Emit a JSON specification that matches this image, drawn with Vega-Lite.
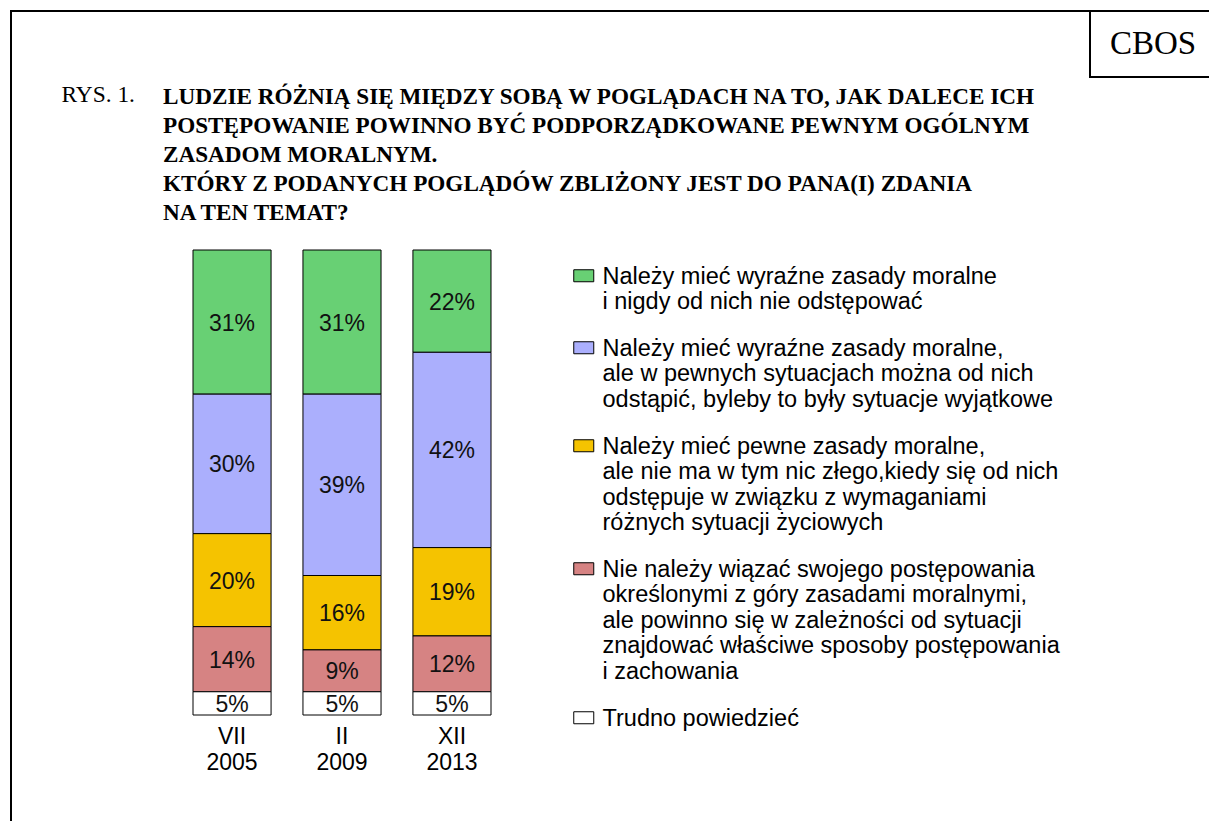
{
  "$schema": "https://vega.github.io/schema/vega-lite/v6.json",
  "width": 1210,
  "height": 830,
  "autosize": {"type": "none"},
  "padding": {"left": 11, "top": 11, "right": 0, "bottom": 0},
  "background": "white",
  "config": {"view": {"stroke": "black", "strokeWidth": 2}, "font": "Liberation Sans", "legend": {"strokeWidth": 2}},
  "title": {
    "text": ["LUDZIE RÓŻNIĄ SIĘ MIĘDZY SOBĄ W POGLĄDACH NA TO, JAK DALECE ICH", "POSTĘPOWANIE POWINNO BYĆ PODPORZĄDKOWANE PEWNYM OGÓLNYM", "ZASADOM MORALNYM.", "KTÓRY Z PODANYCH POGLĄDÓW ZBLIŻONY JEST DO PANA(I) ZDANIA", "NA TEN TEMAT?"],
    "anchor": "start",
    "frame": "group",
    "font": "Liberation Serif",
    "fontSize": 23.2,
    "fontWeight": "bold",
    "color": "black",
    "lineHeight": 29,
    "dx": 152,
    "dy": 215,
    "offset": 0
  },
  "datasets": {
    "survey": [
      {"period": "VII 2005", "k": 1, "cat": "Należy mieć wyraźne zasady moralne i nigdy od nich nie odstępować", "v": 0.31},
      {"period": "VII 2005", "k": 2, "cat": "Należy mieć wyraźne zasady moralne, ale w pewnych sytuacjach można od nich odstąpić, byleby to były sytuacje wyjątkowe", "v": 0.30},
      {"period": "VII 2005", "k": 3, "cat": "Należy mieć pewne zasady moralne, ale nie ma w tym nic złego, kiedy się od nich odstępuje w związku z wymaganiami różnych sytuacji życiowych", "v": 0.20},
      {"period": "VII 2005", "k": 4, "cat": "Nie należy wiązać swojego postępowania określonymi z góry zasadami moralnymi, ale powinno się w zależności od sytuacji znajdować właściwe sposoby postępowania i zachowania", "v": 0.14},
      {"period": "VII 2005", "k": 5, "cat": "Trudno powiedzieć", "v": 0.05},
      {"period": "II 2009", "k": 1, "cat": "Należy mieć wyraźne zasady moralne i nigdy od nich nie odstępować", "v": 0.31},
      {"period": "II 2009", "k": 2, "cat": "Należy mieć wyraźne zasady moralne, ale w pewnych sytuacjach można od nich odstąpić, byleby to były sytuacje wyjątkowe", "v": 0.39},
      {"period": "II 2009", "k": 3, "cat": "Należy mieć pewne zasady moralne, ale nie ma w tym nic złego, kiedy się od nich odstępuje w związku z wymaganiami różnych sytuacji życiowych", "v": 0.16},
      {"period": "II 2009", "k": 4, "cat": "Nie należy wiązać swojego postępowania określonymi z góry zasadami moralnymi, ale powinno się w zależności od sytuacji znajdować właściwe sposoby postępowania i zachowania", "v": 0.09},
      {"period": "II 2009", "k": 5, "cat": "Trudno powiedzieć", "v": 0.05},
      {"period": "XII 2013", "k": 1, "cat": "Należy mieć wyraźne zasady moralne i nigdy od nich nie odstępować", "v": 0.22},
      {"period": "XII 2013", "k": 2, "cat": "Należy mieć wyraźne zasady moralne, ale w pewnych sytuacjach można od nich odstąpić, byleby to były sytuacje wyjątkowe", "v": 0.42},
      {"period": "XII 2013", "k": 3, "cat": "Należy mieć pewne zasady moralne, ale nie ma w tym nic złego, kiedy się od nich odstępuje w związku z wymaganiami różnych sytuacji życiowych", "v": 0.19},
      {"period": "XII 2013", "k": 4, "cat": "Nie należy wiązać swojego postępowania określonymi z góry zasadami moralnymi, ale powinno się w zależności od sytuacji znajdować właściwe sposoby postępowania i zachowania", "v": 0.12},
      {"period": "XII 2013", "k": 5, "cat": "Trudno powiedzieć", "v": 0.05}
    ],
    "source": [{"org": "CBOS"}]
  },
  "layer": [
    {
      "data": {"name": "survey"},
      "transform": [{"stack": "v", "groupby": ["period"], "sort": [{"field": "k", "order": "descending"}], "as": ["v0", "v1"]}],
      "mark": {"type": "bar", "stroke": "black", "strokeWidth": 1},
      "encoding": {
        "x": {
          "field": "period", "type": "nominal", "sort": null,
          "scale": {"range": [182, 480], "paddingInner": 0.29, "paddingOuter": 0},
          "axis": {"orient": "bottom", "offset": -126, "title": null, "domain": false, "ticks": false, "tickSize": 0, "grid": false, "labelAngle": 0, "labelFontSize": 23, "labelFont": "Liberation Sans", "labelColor": "black", "labelLineHeight": 26, "labelBaseline": "top", "labelPadding": 10, "labelExpr": "split(datum.label, ' ')"}
        },
        "y": {
          "field": "v0", "type": "quantitative",
          "scale": {"domain": [0, 1], "range": [704, 239], "nice": false},
          "axis": {"orient": "left", "domain": false, "ticks": false, "labels": false, "grid": false, "title": "RYS. 1.", "titleAngle": 0, "titleX": 50, "titleY": 90, "titleAlign": "left", "titleBaseline": "alphabetic", "titleFont": "Liberation Serif", "titleFontSize": 23.4, "titleFontWeight": "normal", "titleColor": "black"}
        },
        "y2": {"field": "v1"},
        "fill": {
          "field": "cat", "type": "nominal", "sort": null,
          "scale": {
            "domain": [
              "Należy mieć wyraźne zasady moralne i nigdy od nich nie odstępować",
              "Należy mieć wyraźne zasady moralne, ale w pewnych sytuacjach można od nich odstąpić, byleby to były sytuacje wyjątkowe",
              "Należy mieć pewne zasady moralne, ale nie ma w tym nic złego, kiedy się od nich odstępuje w związku z wymaganiami różnych sytuacji życiowych",
              "Nie należy wiązać swojego postępowania określonymi z góry zasadami moralnymi, ale powinno się w zależności od sytuacji znajdować właściwe sposoby postępowania i zachowania",
              "Trudno powiedzieć"
            ],
            "range": ["#68D074", "#ABAFFD", "#F5C300", "#D68383", "#FFFFFF"]
          },
          "legend": {
            "orient": "none", "legendX": 561, "legendY": 253, "title": null,
            "labelFont": "Liberation Sans", "labelFontSize": 23.5, "labelColor": "black", "labelLineHeight": 26.6, "labelLimit": 800,
            "labelBaseline": "alphabetic", "labelOffset": 7,
            "symbolType": "M-1,-0.6H1V0.6H-1Z", "symbolSize": 400, "symbolStrokeColor": "black", "symbolStrokeWidth": 1, "symbolOpacity": 1,
            "rowPadding": 22,
            "labelExpr": "indexof(datum.label, 'nigdy') > 0 ? ['Należy mieć wyraźne zasady moralne', 'i nigdy od nich nie odstępować'] : indexof(datum.label, 'wyjątkowe') > 0 ? ['Należy mieć wyraźne zasady moralne,', 'ale w pewnych sytuacjach można od nich', 'odstąpić, byleby to były sytuacje wyjątkowe'] : indexof(datum.label, 'życiowych') > 0 ? ['Należy mieć pewne zasady moralne,', 'ale nie ma w tym nic złego,kiedy się od nich', 'odstępuje w związku z wymaganiami', 'różnych sytuacji życiowych'] : indexof(datum.label, 'zachowania') > 0 ? ['Nie należy wiązać swojego postępowania', 'określonymi z góry zasadami moralnymi,', 'ale powinno się w zależności od sytuacji', 'znajdować właściwe sposoby postępowania', 'i zachowania'] : datum.label",
            "encode": {"labels": {"update": {"dy": {"value": 8}}}}
          }
        }
      }
    },
    {
      "data": {"name": "survey"},
      "transform": [
        {"stack": "v", "groupby": ["period"], "sort": [{"field": "k", "order": "descending"}], "as": ["v0", "v1"]},
        {"calculate": "(datum.v0 + datum.v1) / 2", "as": "mid"}
      ],
      "mark": {"type": "text", "fontSize": 23, "font": "Liberation Sans", "color": "#111111", "baseline": "middle", "align": "center", "dy": 1.5},
      "encoding": {
        "x": {"field": "period", "type": "nominal", "sort": null},
        "y": {"field": "mid", "type": "quantitative"},
        "text": {"field": "v", "type": "quantitative", "format": ".0%"}
      }
    },
    {
      "data": {"name": "source"},
      "mark": {"type": "point", "opacity": 0},
      "encoding": {
        "shape": {
          "field": "org", "type": "nominal",
          "legend": {"orient": "none", "legendX": 1079, "legendY": 0, "title": null, "labelFont": "Liberation Serif", "labelFontSize": 33, "labelColor": "black", "labelOffset": -29, "symbolSize": 0, "symbolOpacity": 0, "symbolStrokeWidth": 0, "padding": 16, "strokeColor": "black"}
        }
      }
    }
  ]
}
